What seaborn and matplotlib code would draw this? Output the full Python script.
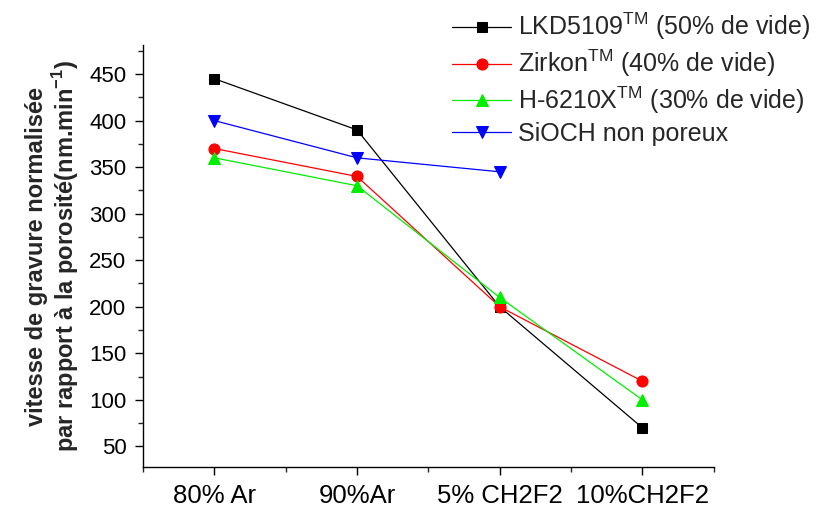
import matplotlib
matplotlib.use("Agg")
import matplotlib.pyplot as plt
import seaborn as sns
import pandas as pd
import numpy as np
from matplotlib.ticker import MultipleLocator, FixedLocator

categories = ["80% Ar", "90%Ar", "5% CH2F2", "10%CH2F2"]
lkd = [445, 390, 200, 70]
zirkon = [370, 340, 200, 120]
h6210 = [360, 330, 210, 100]
sioch = [400, 360, 345]

series_names = [
    r"LKD5109$^{\mathrm{TM}}$ (50% de vide)",
    r"Zirkon$^{\mathrm{TM}}$ (40% de vide)",
    r"H-6210X$^{\mathrm{TM}}$ (30% de vide)",
    "SiOCH non poreux",
]
series_values = [lkd, zirkon, h6210, sioch]
colors = ["#000000", "#ff0000", "#00ee00", "#0000ff"]
markers = ["s", "o", "^", "v"]

rows = []
for name, vals in zip(series_names, series_values):
    for i, v in enumerate(vals):
        rows.append({"x": i, "y": v, "serie": name})
df = pd.DataFrame(rows)

sns.set_theme(style="ticks")
plt.rcParams["font.family"] = ["Liberation Sans", "DejaVu Sans"]
plt.rcParams["mathtext.fontset"] = "custom"
plt.rcParams["mathtext.rm"] = "Liberation Sans"
plt.rcParams["mathtext.bf"] = "Liberation Sans:bold"

fig = plt.figure(figsize=(8.27, 5.08), dpi=100)
ax = fig.add_axes([0.173, 0.081, 0.690, 0.830])

sizes = [7, 8, 8.5, 8.5]
for name, vals, c, m, ms in zip(series_names, series_values, colors, markers, sizes):
    sub = df[df["serie"] == name]
    sns.lineplot(data=sub, x="x", y="y", color=c, marker=m, markersize=ms,
                 markeredgecolor=c, linewidth=0.9, ax=ax, label=name,
                 estimator=None)

ax.set_xlim(-0.5, 3.5)
ax.set_ylim(28, 481)
ax.xaxis.set_major_locator(FixedLocator(range(len(categories))))
ax.set_xticklabels(categories)
ax.xaxis.set_minor_locator(FixedLocator([-0.5, 0.5, 1.5, 2.5, 3.5]))
ax.set_yticks(np.arange(50, 451, 50))
ax.yaxis.set_minor_locator(MultipleLocator(25))
ax.tick_params(axis="both", which="major", direction="out", length=6, width=1,
               colors="black")
ax.tick_params(axis="both", which="minor", direction="out", length=3.5, width=1)
ax.tick_params(axis="x", which="major", pad=6, labelsize=18.5)
ax.tick_params(axis="y", which="major", pad=6, labelsize=16)
sns.despine(ax=ax)
for s in ["left", "bottom"]:
    ax.spines[s].set_linewidth(1.0)
    ax.spines[s].set_color("black")
ax.grid(False)
ax.set_xlabel("")
ax.set_ylabel("vitesse de gravure normalisée\npar rapport à la porosité(nm.min$^{\\mathbf{-1}}$)",
              fontsize=17, fontweight="bold", labelpad=6, linespacing=1.1)

leg = ax.legend(loc="upper left", bbox_to_anchor=(0.535, 0.998), bbox_transform=fig.transFigure,
                frameon=False, fontsize=18, numpoints=1, handlelength=2.36,
                handletextpad=0.25, labelspacing=0.22, borderaxespad=0)

fig.savefig("out.png", dpi=100)
